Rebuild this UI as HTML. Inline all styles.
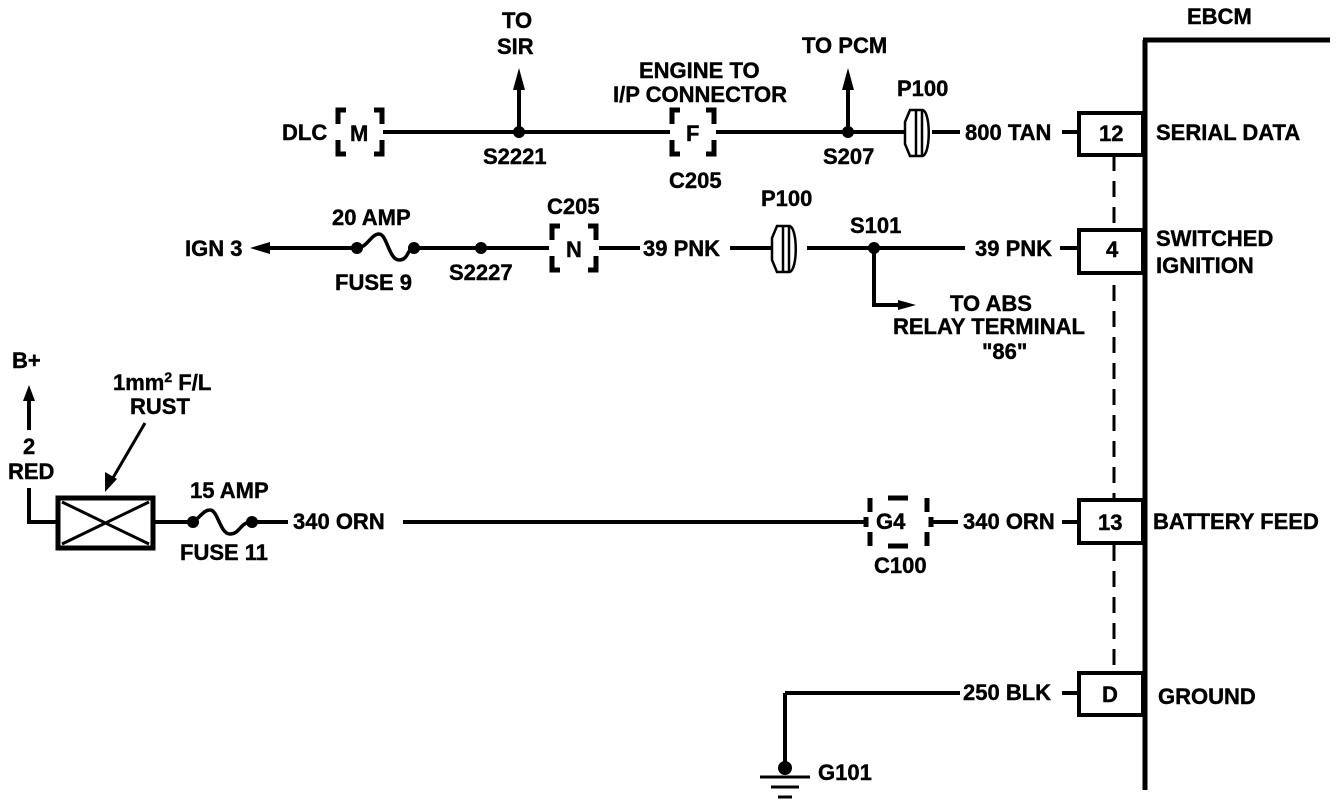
<!DOCTYPE html>
<html><head><style>body{margin:0;background:#fff}svg{display:block}text{font-family:"Liberation Sans",sans-serif;font-weight:bold;font-size:22px;fill:#000;stroke:#000;stroke-width:0.4}</style></head><body>
<svg width="1344" height="804" viewBox="0 0 1344 804" xmlns="http://www.w3.org/2000/svg">
<g stroke="#000" stroke-width="4" fill="none">
<path d="M1114 155V673" stroke-width="3" stroke-dasharray="16,10"/>
<path d="M1145 40V790M1143 40H1330" stroke-width="5"/>
<g fill="#fff">
<rect x="1079" y="113" width="64" height="42"/>
<rect x="1079" y="230" width="64" height="43"/>
<rect x="1079" y="500" width="64" height="43"/>
<rect x="1079" y="673" width="64" height="42"/>
</g>
<path d="M383 132H670M716 132H905M932 132H960M1062 132H1079"/>
<path d="M519 132V90M848 132V90"/>
<g stroke-width="5">
<path d="M346 110h-8v14M374 110h8v14M346 154h-8v-14M374 154h8v-14"/>
<path d="M680 110h-8v14M706 110h8v14M680 154h-8v-14M706 154h8v-14"/>
<path d="M560 226h-8v14M588 226h8v14M560 270h-8v-14M588 270h8v-14"/>
</g>
<path d="M258 248H357M414 248H549M599 248H640M730 248H772M807 248H965M1060 248H1079"/>
<path d="M357 248c10 0 14-14 22-14s10 26 20 26s8-12 15-12" stroke-width="3.5"/>
<path d="M874 248V305H900"/>
<path d="M29 488V522H58M153 522H190M252 522H288M403 522H865M932 522H958M1062 522H1079"/>
<rect x="58" y="498" width="95" height="50" stroke-width="5"/>
<path d="M62 502L149 544M149 502L62 544" stroke-width="3"/>
<path d="M190 522c8 0 12-12 20-12s10 24 20 24s10-12 22-12" stroke-width="3.5"/>
<path d="M29 430V398"/>
<path d="M145 423L110 483" stroke-width="3"/>
<path d="M870 498v14M927 498v14M870 546v-14M927 546v-14M888 498h20M888 546h20M866 517v10M931 517v10" stroke-width="5"/>
<path d="M785 693H960M1062 693H1079M785 693V765"/>
<path d="M760 777h50M771 787h28M778 797h14" stroke-width="3"/>
<path d="M905 122l5-12h6v46h-6l-5-12zM916 110h6v46h-6zM922 110c9 0 9 46 0 46" stroke-width="2.5"/>
<path d="M772 238l5-12h6v46h-6l-5-12zM783 226h6v46h-6zM789 226c9 0 9 46 0 46" stroke-width="2.5"/>
</g>
<g fill="#000">
<circle cx="519" cy="132" r="6"/><circle cx="848" cy="132" r="6"/>
<circle cx="481" cy="248" r="6"/><circle cx="874" cy="248" r="6"/>
<circle cx="357" cy="248" r="6"/><circle cx="414" cy="248" r="6"/>
<circle cx="193" cy="522" r="6"/><circle cx="252" cy="522" r="6"/>
<circle cx="785" cy="768" r="7"/>
<path d="M519 68l-6 22h12zM848 68l-6 22h12zM250 248l20-6v12zM916 305l-18-5v10zM29 385l-6 16h12zM105 492l0-20l12 7z"/>
</g>
<text x="1187" y="24">EBCM</text>
<text x="502" y="28">TO</text><text x="497" y="54">SIR</text>
<text x="802" y="53">TO PCM</text>
<text x="639" y="78">ENGINE TO</text><text x="613" y="102">I/P CONNECTOR</text>
<text x="897" y="96">P100</text>
<text x="282" y="140">DLC</text><text x="350" y="141" font-size="20">M</text>
<text x="483" y="164">S2221</text><text x="686" y="141" font-size="20">F</text>
<text x="669" y="188">C205</text><text x="823" y="164">S207</text>
<text x="965" y="140">800 TAN</text><text x="1099" y="141">12</text>
<text x="1156" y="140">SERIAL DATA</text>
<text x="332" y="225">20 AMP</text><text x="547" y="214">C205</text>
<text x="761" y="206">P100</text><text x="850" y="233">S101</text>
<text x="185" y="256">IGN 3</text>
<text x="335" y="290">FUSE 9</text><text x="449" y="280">S2227</text>
<text x="566" y="257" font-size="20">N</text>
<text x="643" y="256">39 PNK</text><text x="975" y="256">39 PNK</text>
<text x="1106" y="257">4</text>
<text x="1156" y="246">SWITCHED</text><text x="1156" y="273">IGNITION</text>
<text x="950" y="311">TO ABS</text><text x="893" y="334">RELAY TERMINAL</text><text x="982" y="359">"86"</text>
<text x="12" y="368">B+</text>
<text x="113" y="390">1mm<tspan font-size="14" dy="-8">2</tspan><tspan dy="8"> F/L</tspan></text>
<text x="130" y="414">RUST</text>
<text x="23" y="454">2</text><text x="8" y="479">RED</text>
<text x="190" y="498">15 AMP</text><text x="180" y="560">FUSE 11</text>
<text x="293" y="529">340 ORN</text>
<text x="876" y="529">G4</text><text x="874" y="573">C100</text>
<text x="963" y="529">340 ORN</text><text x="1098" y="530">13</text>
<text x="1153" y="529">BATTERY FEED</text>
<text x="963" y="700">250 BLK</text><text x="1102" y="702">D</text>
<text x="1158" y="704">GROUND</text>
<text x="818" y="780">G101</text>
</svg>
</body></html>
